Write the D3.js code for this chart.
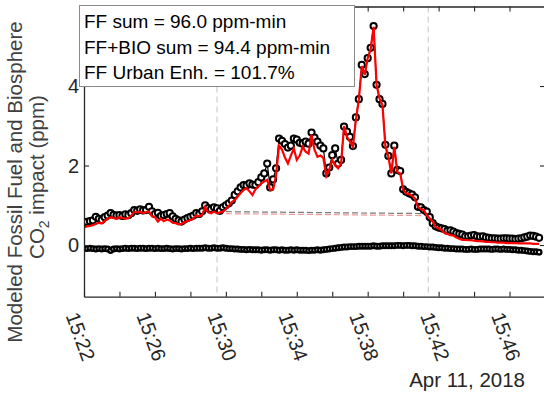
<!DOCTYPE html>
<html>
<head>
<meta charset="utf-8">
<script src="https://cdn.jsdelivr.net/npm/d3@7"></script>
<style>
  body { margin: 0; background: #fff; }
  text { font-family: "Liberation Sans", Arial, sans-serif; }
</style>
</head>
<body>
<div id="chart"></div>
<script>
// samples every 10 s starting 15:22:00 on Apr 11, 2018
const startTime = "2018-04-11T15:22:00";
const stepSeconds = 10;

// FF+BIO modeled impact (black circles), ppm
const ffBio = [
  0.55, 0.58, 0.60, 0.62, 0.71, 0.66, 0.63, 0.70, 0.74, 0.80,
  0.76, 0.74, 0.75, 0.73, 0.77, 0.75, 0.80, 0.88, 0.86, 0.90,
  0.87, 0.88, 0.96, 0.85, 0.78, 0.81, 0.73, 0.75, 0.78, 0.80,
  0.72, 0.66, 0.62, 0.59, 0.64, 0.68, 0.71, 0.74, 0.80, 0.78,
  0.85, 1.00, 0.93, 0.90, 0.95, 0.92, 0.86, 0.95, 1.00, 1.05,
  1.12, 1.26, 1.35, 1.45, 1.51, 1.50, 1.55, 1.52, 1.51, 1.58,
  1.70, 1.80, 2.05, 1.45, 1.65, 1.93, 2.68, 2.62, 2.54, 2.45,
  2.50, 2.68, 2.65, 2.57, 2.55, 2.60, 2.55, 2.83, 2.70, 2.60,
  2.50, 2.43, 1.80, 1.95, 2.26, 2.43, 2.05, 2.14, 2.98, 2.85,
  2.72, 2.49, 3.21, 3.67, 4.53, 4.30, 4.70, 4.96, 5.51, 4.03,
  3.67, 3.55, 2.52, 2.24, 1.80, 2.50, 1.89, 1.86, 1.40, 1.34,
  1.30, 1.27, 1.20, 0.96, 0.95, 0.88, 0.84, 0.70, 0.55, 0.47,
  0.44, 0.42, 0.40, 0.36, 0.37, 0.34, 0.30, 0.28, 0.26, 0.22,
  0.22, 0.24, 0.25, 0.22, 0.21, 0.22, 0.19, 0.18, 0.17, 0.17,
  0.16, 0.16, 0.17, 0.17, 0.16, 0.16, 0.15, 0.16, 0.17, 0.19,
  0.21, 0.24, 0.23, 0.21, 0.18
];

// FF modeled impact (red line), ppm
const ffOnly = [
  0.45, 0.47, 0.48, 0.50, 0.53, 0.56, 0.54, 0.60, 0.66, 0.70,
  0.68, 0.66, 0.70, 0.68, 0.66, 0.68, 0.74, 0.83, 0.82, 0.84,
  0.80, 0.83, 0.84, 0.72, 0.70, 0.59, 0.66, 0.60, 0.64, 0.62,
  0.56, 0.55, 0.52, 0.53, 0.58, 0.60, 0.63, 0.66, 0.75, 0.72,
  0.76, 0.96, 0.82, 0.80, 0.84, 0.80, 0.82, 0.84, 0.90, 0.98,
  1.08, 1.13, 1.22, 1.31, 1.38, 1.43, 1.35, 1.26, 1.40, 1.47,
  1.55, 1.60, 1.64, 1.38, 1.40, 1.75, 2.50, 2.40, 2.20, 2.05,
  2.25, 2.43, 2.14, 2.25, 2.47, 2.35, 2.30, 2.77, 2.40, 2.22,
  2.25, 2.19, 1.74, 1.90, 2.14, 2.00, 1.93, 2.05, 2.99, 2.72,
  2.60, 2.47, 3.14, 3.65, 4.50, 4.28, 4.70, 4.92, 5.49, 4.03,
  3.69, 3.52, 2.47, 2.22, 1.80, 2.47, 1.84, 1.80, 1.40, 1.30,
  1.28, 1.24, 1.17, 0.96, 0.90, 0.88, 0.75, 0.67, 0.59, 0.45,
  0.42, 0.38, 0.30, 0.28, 0.25, 0.24, 0.19, 0.16, 0.13, 0.13,
  0.12, 0.12, 0.11, 0.10, 0.10, 0.09, 0.08, 0.08, 0.07, 0.07,
  0.06, 0.06, 0.06, 0.05, 0.05, 0.05, 0.05, 0.04, 0.04, 0.04,
  0.04, 0.04, 0.03, 0.03, 0.03
];

// biosphere impact (black band near zero), ppm
const bio = [
  -0.08, -0.09, -0.08, -0.09, -0.10, -0.09, -0.10, -0.09, -0.10, -0.14,
  -0.10, -0.09, -0.10, -0.09, -0.08, -0.09, -0.08, -0.08, -0.09, -0.08,
  -0.08, -0.09, -0.08, -0.08, -0.09, -0.08, -0.09, -0.09, -0.08, -0.09,
  -0.10, -0.09, -0.09, -0.10, -0.09, -0.09, -0.08, -0.09, -0.08, -0.08,
  -0.08, -0.07, -0.08, -0.08, -0.07, -0.08, -0.08, -0.07, -0.08, -0.09,
  -0.09, -0.10, -0.10, -0.11, -0.11, -0.12, -0.11, -0.12, -0.12, -0.12,
  -0.13, -0.12, -0.12, -0.13, -0.12, -0.12, -0.13, -0.12, -0.13, -0.13,
  -0.12, -0.13, -0.12, -0.13, -0.13, -0.13, -0.14, -0.13, -0.13, -0.12,
  -0.13, -0.12, -0.11, -0.10, -0.09, -0.08, -0.07, -0.06, -0.05, -0.05,
  -0.04, -0.04, -0.04, -0.03, -0.03, -0.03, -0.03, -0.03, -0.02, -0.03,
  -0.03, -0.02, -0.02, -0.02, -0.02, -0.02, -0.01, -0.01, -0.02, -0.01,
  -0.01, -0.02, -0.02, -0.03, -0.03, -0.04, -0.04, -0.05, -0.05, -0.06,
  -0.07, -0.07, -0.08, -0.08, -0.09, -0.09, -0.10, -0.10, -0.10, -0.11,
  -0.11, -0.10, -0.11, -0.11, -0.10, -0.10, -0.10, -0.10, -0.11, -0.10,
  -0.10, -0.11, -0.10, -0.11, -0.11, -0.12, -0.12, -0.13, -0.13, -0.14,
  -0.15, -0.16, -0.17, -0.17, -0.18
];

// background window (dashed lines)
const windowTimes = ["2018-04-11T15:29:30", "2018-04-11T15:41:25"];
const bgFfBio = [0.84, 0.79];
const bgFf = [0.79, 0.74];

const xTickTimes = ["15:22", "15:24", "15:26", "15:28", "15:30", "15:32", "15:34",
  "15:36", "15:38", "15:40", "15:42", "15:44", "15:46"];
const xTickLabels = ["15:22", "15:26", "15:30", "15:34", "15:38", "15:42", "15:46"];
const yTicks = [0, 2, 4];
const legendLines = ["FF sum = 96.0 ppm-min", "FF+BIO sum = 94.4 ppm-min", "FF Urban Enh. = 101.7%"];

const width = 544;
const height = 397;
const plotLeft = 84, plotRight = 545, plotTop = 6.5, plotBottom = 296.7;

const t0 = new Date(startTime);
const timeAt = i => new Date(t0.getTime() + i * stepSeconds * 1000);
const hm = s => new Date("2018-04-11T" + s + ":00");

const svg = d3.select("#chart")
  .append("svg")
  .attr("width", width)
  .attr("height", height);

const xScale = d3.scaleTime().domain([hm("15:22"), hm("15:48")]).range([plotLeft, plotRight]);
const yScale = d3.scaleLinear().domain([-1.3, 6]).range([plotBottom, plotTop]);

svg.append("clipPath").attr("id", "plotclip")
  .append("rect")
  .attr("x", plotLeft).attr("y", plotTop)
  .attr("width", plotRight - plotLeft).attr("height", plotBottom - plotTop);

const plot = svg.append("g").attr("clip-path", "url(#plotclip)");

// vertical window markers
plot.selectAll(".vmark")
  .data(windowTimes)
  .enter().append("line")
  .attr("x1", d => xScale(new Date(d)))
  .attr("x2", d => xScale(new Date(d)))
  .attr("y1", plotTop)
  .attr("y2", plotBottom)
  .attr("stroke", "#cfcfcf")
  .attr("stroke-width", 1.2)
  .attr("stroke-dasharray", "6,4");

// background dashed lines
const bgLine = d3.line()
  .x((d, i) => xScale(new Date(windowTimes[i])))
  .y(d => yScale(d));

plot.append("path")
  .attr("d", bgLine(bgFf))
  .attr("fill", "none")
  .attr("stroke", "#f39b9b")
  .attr("stroke-width", 1.2)
  .attr("stroke-dasharray", "6,3");

plot.append("path")
  .attr("d", bgLine(bgFfBio))
  .attr("fill", "none")
  .attr("stroke", "#7a7a7a")
  .attr("stroke-width", 1.2)
  .attr("stroke-dasharray", "6,3");

const line = d3.line()
  .x((d, i) => xScale(timeAt(i)))
  .y(d => yScale(d));

// biosphere band
plot.append("path")
  .attr("d", line(bio))
  .attr("fill", "none")
  .attr("stroke", "#000")
  .attr("stroke-width", 3);

plot.append("g").selectAll("circle")
  .data(bio)
  .enter().append("circle")
  .attr("cx", (d, i) => xScale(timeAt(i)))
  .attr("cy", d => yScale(d))
  .attr("r", 2.3)
  .attr("fill", "#fff")
  .attr("stroke", "#000")
  .attr("stroke-width", 2.3);

// FF+BIO circles
plot.append("path")
  .attr("d", line(ffBio))
  .attr("fill", "none")
  .attr("stroke", "#000")
  .attr("stroke-width", 1.2);

plot.append("g").selectAll("circle")
  .data(ffBio)
  .enter().append("circle")
  .attr("cx", (d, i) => xScale(timeAt(i)))
  .attr("cy", d => yScale(d))
  .attr("r", 3.1)
  .attr("fill", "#fff")
  .attr("stroke", "#000")
  .attr("stroke-width", 2);

// FF red line
plot.append("path")
  .attr("d", line(ffOnly))
  .attr("fill", "none")
  .attr("stroke", "#ff0000")
  .attr("stroke-width", 2.2);

// axes
const axisColor = "#262626";
const tickVals = xTickTimes.map(hm);

function styleAxis(g) {
  g.select(".domain").attr("stroke", axisColor).attr("stroke-width", 1.3);
  g.selectAll(".tick line").attr("stroke", axisColor).attr("stroke-width", 1.1);
  g.selectAll(".tick text").remove();
}

svg.append("g")
  .attr("transform", `translate(0,${plotBottom})`)
  .call(d3.axisBottom(xScale).tickValues(tickVals).tickSizeInner(-5).tickSizeOuter(0).tickFormat(""))
  .call(styleAxis);

svg.append("g")
  .attr("transform", `translate(0,${plotTop})`)
  .call(d3.axisTop(xScale).tickValues(tickVals).tickSizeInner(-5).tickSizeOuter(0).tickFormat(""))
  .call(styleAxis);

svg.append("g")
  .attr("transform", `translate(${plotLeft},0)`)
  .call(d3.axisLeft(yScale).tickValues(yTicks).tickSizeInner(-5).tickSizeOuter(0).tickFormat(""))
  .call(styleAxis);

svg.append("g")
  .attr("transform", `translate(${plotRight},0)`)
  .call(d3.axisRight(yScale).tickValues(yTicks).tickSizeInner(-5).tickSizeOuter(0).tickFormat(""))
  .call(styleAxis);

// x tick labels, rotated
svg.append("g").selectAll("text")
  .data(xTickLabels)
  .enter().append("text")
  .attr("transform", d => `translate(${xScale(hm(d)) - 12},313) rotate(70)`)
  .attr("dy", "0.35em")
  .attr("font-size", 20)
  .attr("fill", axisColor)
  .text(d => d);

// y tick labels
svg.append("g").selectAll("text")
  .data(yTicks)
  .enter().append("text")
  .attr("x", 79)
  .attr("y", d => yScale(d))
  .attr("dy", "0.35em")
  .attr("text-anchor", "end")
  .attr("font-size", 20)
  .attr("fill", axisColor)
  .text(d => d);

// date label
svg.append("text")
  .attr("x", 525)
  .attr("y", 387)
  .attr("text-anchor", "end")
  .attr("font-size", 20.5)
  .attr("fill", axisColor)
  .text("Apr 11, 2018");

// y axis title
svg.append("text")
  .attr("transform", "translate(22,182) rotate(-90)")
  .attr("text-anchor", "middle")
  .attr("font-size", 20.5)
  .attr("fill", "#404040")
  .text("Modeled Fossil Fuel and Biosphere");

const yl2 = svg.append("text")
  .attr("transform", "translate(44,177) rotate(-90)")
  .attr("text-anchor", "middle")
  .attr("font-size", 20.5)
  .attr("fill", "#404040");
yl2.append("tspan").text("CO");
yl2.append("tspan").attr("font-size", 14).attr("dy", 5).text("2");
yl2.append("tspan").attr("dy", -5).text(" impact (ppm)");

// legend box
const legend = svg.append("g");
legend.append("rect")
  .attr("x", 79.5).attr("y", 5.5)
  .attr("width", 275).attr("height", 81)
  .attr("fill", "#fff")
  .attr("stroke", "#8a8a8a")
  .attr("stroke-width", 1);

legend.selectAll("text")
  .data(legendLines)
  .enter().append("text")
  .attr("x", 84)
  .attr("y", (d, i) => 28 + i * 25.5)
  .attr("font-size", 19)
  .attr("fill", "#000")
  .text(d => d);
</script>
</body>
</html>
